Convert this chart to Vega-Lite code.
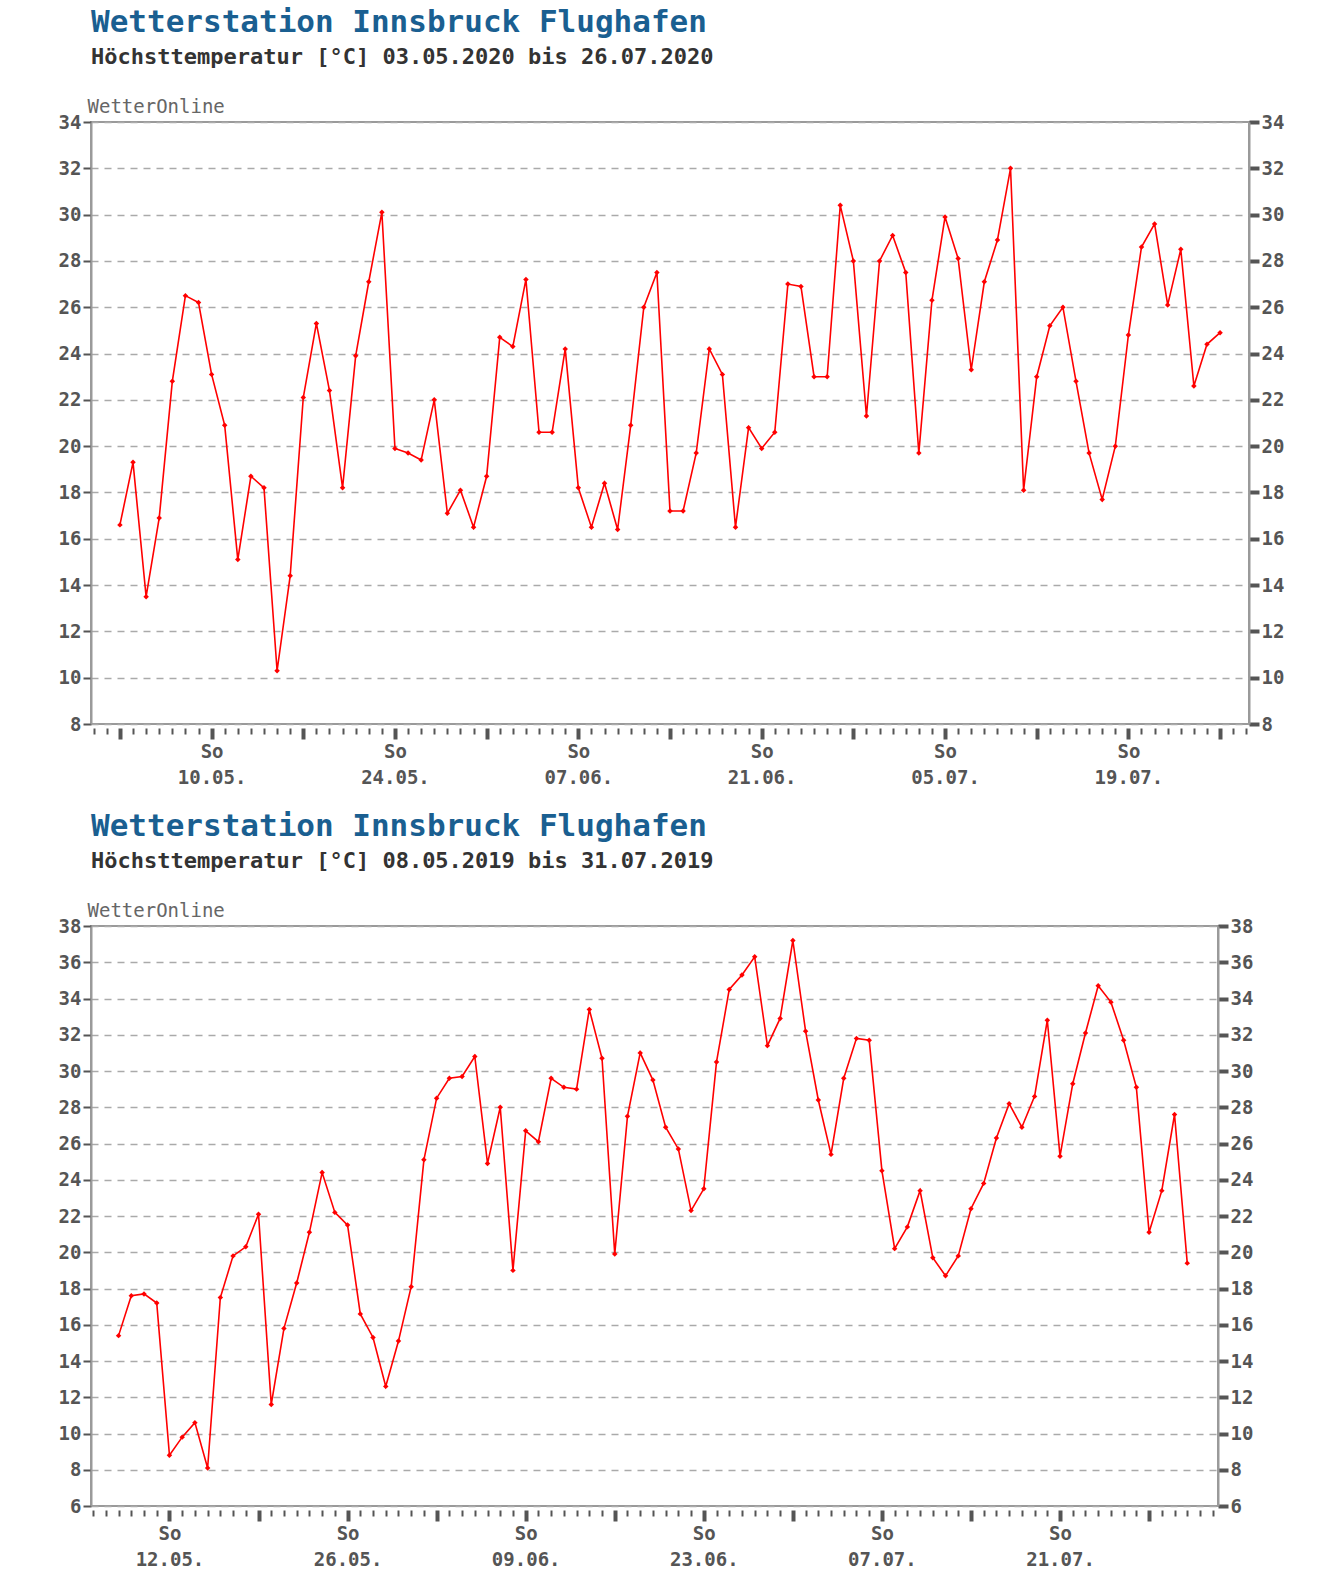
{
  "$schema": "https://vega.github.io/schema/vega-lite/v6.json",
  "background": "white",
  "padding": {"left": 57, "top": 6, "right": 10, "bottom": 5},
  "spacing": 22,
  "config": {
    "font": "DejaVu Sans Mono",
    "view": {"stroke": "#9a9a9a", "strokeWidth": 2},
    "title": {"anchor": "start", "frame": "group", "font": "DejaVu Sans Mono", "fontSize": 31, "fontWeight": "bold", "color": "#1a5f91", "subtitleFont": "DejaVu Sans Mono", "subtitleFontSize": 22, "subtitleFontWeight": "bold", "subtitleColor": "#333333", "subtitlePadding": 8, "offset": 28},
    "axis": {"labelFont": "DejaVu Sans Mono", "labelFontSize": 19, "labelFontWeight": "bold", "labelColor": "#555555", "domainColor": "#9a9a9a", "tickColor": "#555555"}
  },
  "vconcat": [
    {
      "width": 1158,
      "height": 602,
      "title": {"text": "Wetterstation Innsbruck Flughafen", "subtitle": "Höchsttemperatur [°C] 03.05.2020 bis 26.07.2020"},
      "data": {"values": [
        {"d": "2020-05-03", "t": 16.6}, {"d": "2020-05-04", "t": 19.3}, {"d": "2020-05-05", "t": 13.5}, {"d": "2020-05-06", "t": 16.9}, {"d": "2020-05-07", "t": 22.8},
        {"d": "2020-05-08", "t": 26.5}, {"d": "2020-05-09", "t": 26.2}, {"d": "2020-05-10", "t": 23.1}, {"d": "2020-05-11", "t": 20.9}, {"d": "2020-05-12", "t": 15.1},
        {"d": "2020-05-13", "t": 18.7}, {"d": "2020-05-14", "t": 18.2}, {"d": "2020-05-15", "t": 10.3}, {"d": "2020-05-16", "t": 14.4}, {"d": "2020-05-17", "t": 22.1},
        {"d": "2020-05-18", "t": 25.3}, {"d": "2020-05-19", "t": 22.4}, {"d": "2020-05-20", "t": 18.2}, {"d": "2020-05-21", "t": 23.9}, {"d": "2020-05-22", "t": 27.1},
        {"d": "2020-05-23", "t": 30.1}, {"d": "2020-05-24", "t": 19.9}, {"d": "2020-05-25", "t": 19.7}, {"d": "2020-05-26", "t": 19.4}, {"d": "2020-05-27", "t": 22.0},
        {"d": "2020-05-28", "t": 17.1}, {"d": "2020-05-29", "t": 18.1}, {"d": "2020-05-30", "t": 16.5}, {"d": "2020-05-31", "t": 18.7}, {"d": "2020-06-01", "t": 24.7},
        {"d": "2020-06-02", "t": 24.3}, {"d": "2020-06-03", "t": 27.2}, {"d": "2020-06-04", "t": 20.6}, {"d": "2020-06-05", "t": 20.6}, {"d": "2020-06-06", "t": 24.2},
        {"d": "2020-06-07", "t": 18.2}, {"d": "2020-06-08", "t": 16.5}, {"d": "2020-06-09", "t": 18.4}, {"d": "2020-06-10", "t": 16.4}, {"d": "2020-06-11", "t": 20.9},
        {"d": "2020-06-12", "t": 26.0}, {"d": "2020-06-13", "t": 27.5}, {"d": "2020-06-14", "t": 17.2}, {"d": "2020-06-15", "t": 17.2}, {"d": "2020-06-16", "t": 19.7},
        {"d": "2020-06-17", "t": 24.2}, {"d": "2020-06-18", "t": 23.1}, {"d": "2020-06-19", "t": 16.5}, {"d": "2020-06-20", "t": 20.8}, {"d": "2020-06-21", "t": 19.9},
        {"d": "2020-06-22", "t": 20.6}, {"d": "2020-06-23", "t": 27.0}, {"d": "2020-06-24", "t": 26.9}, {"d": "2020-06-25", "t": 23.0}, {"d": "2020-06-26", "t": 23.0},
        {"d": "2020-06-27", "t": 30.4}, {"d": "2020-06-28", "t": 28.0}, {"d": "2020-06-29", "t": 21.3}, {"d": "2020-06-30", "t": 28.0}, {"d": "2020-07-01", "t": 29.1},
        {"d": "2020-07-02", "t": 27.5}, {"d": "2020-07-03", "t": 19.7}, {"d": "2020-07-04", "t": 26.3}, {"d": "2020-07-05", "t": 29.9}, {"d": "2020-07-06", "t": 28.1},
        {"d": "2020-07-07", "t": 23.3}, {"d": "2020-07-08", "t": 27.1}, {"d": "2020-07-09", "t": 28.9}, {"d": "2020-07-10", "t": 32.0}, {"d": "2020-07-11", "t": 18.1},
        {"d": "2020-07-12", "t": 23.0}, {"d": "2020-07-13", "t": 25.2}, {"d": "2020-07-14", "t": 26.0}, {"d": "2020-07-15", "t": 22.8}, {"d": "2020-07-16", "t": 19.7},
        {"d": "2020-07-17", "t": 17.7}, {"d": "2020-07-18", "t": 20.0}, {"d": "2020-07-19", "t": 24.8}, {"d": "2020-07-20", "t": 28.6}, {"d": "2020-07-21", "t": 29.6},
        {"d": "2020-07-22", "t": 26.1}, {"d": "2020-07-23", "t": 28.5}, {"d": "2020-07-24", "t": 22.6}, {"d": "2020-07-25", "t": 24.4}, {"d": "2020-07-26", "t": 24.9}
      ]},
      "resolve": {"axis": {"y": "independent", "x": "independent"}},
      "layer": [
        {
          "mark": {"type": "line", "color": "#ff0000", "strokeWidth": 1.6, "point": {"filled": true, "size": 30, "color": "#ff0000", "shape": "diamond"}},
          "encoding": {
            "x": {"field": "d", "type": "temporal", "title": null,
              "scale": {"domain": [{"year": 2020, "month": 4, "date": 30, "hours": 19}, {"year": 2020, "month": 7, "date": 28, "hours": 5}]},
              "axis": {"tickCount": {"interval": "day", "step": 1}, "grid": false, "domain": false, "labels": false, "offset": 4,
                "tickSize": {"condition": {"test": "day(datum.value)==0", "value": 11}, "value": 6},
                "tickWidth": {"condition": {"test": "day(datum.value)==0", "value": 4}, "value": 2}}},
            "y": {"field": "t", "type": "quantitative", "scale": {"domain": [8, 34], "nice": false},
              "axis": {"values": [8,10,12,14,16,18,20,22,24,26,28,30,32,34], "grid": true, "gridDash": [7, 6], "gridColor": "#aaaaaa", "gridWidth": 1.5,
                "tickSize": 8, "tickWidth": 2, "domainWidth": 2,
                "title": "WetterOnline", "titleAngle": 0, "titleAlign": "left", "titleBaseline": "bottom", "titleX": -4, "titleY": -6,
                "titleFont": "DejaVu Sans Mono", "titleFontSize": 19, "titleFontWeight": "normal", "titleColor": "#666666"}}
          }
        },
        {
          "mark": {"type": "line", "opacity": 0},
          "encoding": {
            "x": {"field": "d", "type": "temporal", "title": null,
              "axis": {"orient": "bottom", "values": [{"year": 2020, "month": 5, "date": 10}, {"year": 2020, "month": 5, "date": 24}, {"year": 2020, "month": 6, "date": 7}, {"year": 2020, "month": 6, "date": 21}, {"year": 2020, "month": 7, "date": 5}, {"year": 2020, "month": 7, "date": 19}],
                "grid": false, "domain": false, "ticks": false, "offset": 4, "labelPadding": 14, "labelLineHeight": 26, "labelOverlap": false, "labelFlush": false,
                "labelExpr": "['So', timeFormat(datum.value, '%d.%m.')]"}},
            "y": {"field": "t", "type": "quantitative",
              "axis": {"orient": "right", "values": [8,10,12,14,16,18,20,22,24,26,28,30,32,34], "grid": false, "title": null, "tickSize": 10, "tickWidth": 4, "domainWidth": 2}}
          }
        }
      ]
    },
    {
      "width": 1127,
      "height": 580,
      "title": {"text": "Wetterstation Innsbruck Flughafen", "subtitle": "Höchsttemperatur [°C] 08.05.2019 bis 31.07.2019"},
      "data": {"values": [
        {"d": "2019-05-08", "t": 15.4}, {"d": "2019-05-09", "t": 17.6}, {"d": "2019-05-10", "t": 17.7}, {"d": "2019-05-11", "t": 17.2}, {"d": "2019-05-12", "t": 8.8},
        {"d": "2019-05-13", "t": 9.8}, {"d": "2019-05-14", "t": 10.6}, {"d": "2019-05-15", "t": 8.1}, {"d": "2019-05-16", "t": 17.5}, {"d": "2019-05-17", "t": 19.8},
        {"d": "2019-05-18", "t": 20.3}, {"d": "2019-05-19", "t": 22.1}, {"d": "2019-05-20", "t": 11.6}, {"d": "2019-05-21", "t": 15.8}, {"d": "2019-05-22", "t": 18.3},
        {"d": "2019-05-23", "t": 21.1}, {"d": "2019-05-24", "t": 24.4}, {"d": "2019-05-25", "t": 22.2}, {"d": "2019-05-26", "t": 21.5}, {"d": "2019-05-27", "t": 16.6},
        {"d": "2019-05-28", "t": 15.3}, {"d": "2019-05-29", "t": 12.6}, {"d": "2019-05-30", "t": 15.1}, {"d": "2019-05-31", "t": 18.1}, {"d": "2019-06-01", "t": 25.1},
        {"d": "2019-06-02", "t": 28.5}, {"d": "2019-06-03", "t": 29.6}, {"d": "2019-06-04", "t": 29.7}, {"d": "2019-06-05", "t": 30.8}, {"d": "2019-06-06", "t": 24.9},
        {"d": "2019-06-07", "t": 28.0}, {"d": "2019-06-08", "t": 19.0}, {"d": "2019-06-09", "t": 26.7}, {"d": "2019-06-10", "t": 26.1}, {"d": "2019-06-11", "t": 29.6},
        {"d": "2019-06-12", "t": 29.1}, {"d": "2019-06-13", "t": 29.0}, {"d": "2019-06-14", "t": 33.4}, {"d": "2019-06-15", "t": 30.7}, {"d": "2019-06-16", "t": 19.9},
        {"d": "2019-06-17", "t": 27.5}, {"d": "2019-06-18", "t": 31.0}, {"d": "2019-06-19", "t": 29.5}, {"d": "2019-06-20", "t": 26.9}, {"d": "2019-06-21", "t": 25.7},
        {"d": "2019-06-22", "t": 22.3}, {"d": "2019-06-23", "t": 23.5}, {"d": "2019-06-24", "t": 30.5}, {"d": "2019-06-25", "t": 34.5}, {"d": "2019-06-26", "t": 35.3},
        {"d": "2019-06-27", "t": 36.3}, {"d": "2019-06-28", "t": 31.4}, {"d": "2019-06-29", "t": 32.9}, {"d": "2019-06-30", "t": 37.2}, {"d": "2019-07-01", "t": 32.2},
        {"d": "2019-07-02", "t": 28.4}, {"d": "2019-07-03", "t": 25.4}, {"d": "2019-07-04", "t": 29.6}, {"d": "2019-07-05", "t": 31.8}, {"d": "2019-07-06", "t": 31.7},
        {"d": "2019-07-07", "t": 24.5}, {"d": "2019-07-08", "t": 20.2}, {"d": "2019-07-09", "t": 21.4}, {"d": "2019-07-10", "t": 23.4}, {"d": "2019-07-11", "t": 19.7},
        {"d": "2019-07-12", "t": 18.7}, {"d": "2019-07-13", "t": 19.8}, {"d": "2019-07-14", "t": 22.4}, {"d": "2019-07-15", "t": 23.8}, {"d": "2019-07-16", "t": 26.3},
        {"d": "2019-07-17", "t": 28.2}, {"d": "2019-07-18", "t": 26.9}, {"d": "2019-07-19", "t": 28.6}, {"d": "2019-07-20", "t": 32.8}, {"d": "2019-07-21", "t": 25.3},
        {"d": "2019-07-22", "t": 29.3}, {"d": "2019-07-23", "t": 32.1}, {"d": "2019-07-24", "t": 34.7}, {"d": "2019-07-25", "t": 33.8}, {"d": "2019-07-26", "t": 31.7},
        {"d": "2019-07-27", "t": 29.1}, {"d": "2019-07-28", "t": 21.1}, {"d": "2019-07-29", "t": 23.4}, {"d": "2019-07-30", "t": 27.6}, {"d": "2019-07-31", "t": 19.4}
      ]},
      "resolve": {"axis": {"y": "independent", "x": "independent"}},
      "layer": [
        {
          "mark": {"type": "line", "color": "#ff0000", "strokeWidth": 1.6, "point": {"filled": true, "size": 30, "color": "#ff0000", "shape": "diamond"}},
          "encoding": {
            "x": {"field": "d", "type": "temporal", "title": null,
              "scale": {"domain": [{"year": 2019, "month": 5, "date": 5, "hours": 20}, {"year": 2019, "month": 8, "date": 2, "hours": 10}]},
              "axis": {"tickCount": {"interval": "day", "step": 1}, "grid": false, "domain": false, "labels": false, "offset": 4,
                "tickSize": {"condition": {"test": "day(datum.value)==0", "value": 11}, "value": 6},
                "tickWidth": {"condition": {"test": "day(datum.value)==0", "value": 4}, "value": 2}}},
            "y": {"field": "t", "type": "quantitative", "scale": {"domain": [6, 38], "nice": false},
              "axis": {"values": [6,8,10,12,14,16,18,20,22,24,26,28,30,32,34,36,38], "grid": true, "gridDash": [7, 6], "gridColor": "#aaaaaa", "gridWidth": 1.5,
                "tickSize": 8, "tickWidth": 2, "domainWidth": 2,
                "title": "WetterOnline", "titleAngle": 0, "titleAlign": "left", "titleBaseline": "bottom", "titleX": -4, "titleY": -6,
                "titleFont": "DejaVu Sans Mono", "titleFontSize": 19, "titleFontWeight": "normal", "titleColor": "#666666"}}
          }
        },
        {
          "mark": {"type": "line", "opacity": 0},
          "encoding": {
            "x": {"field": "d", "type": "temporal", "title": null,
              "axis": {"orient": "bottom", "values": [{"year": 2019, "month": 5, "date": 12}, {"year": 2019, "month": 5, "date": 26}, {"year": 2019, "month": 6, "date": 9}, {"year": 2019, "month": 6, "date": 23}, {"year": 2019, "month": 7, "date": 7}, {"year": 2019, "month": 7, "date": 21}],
                "grid": false, "domain": false, "ticks": false, "offset": 4, "labelPadding": 14, "labelLineHeight": 26, "labelOverlap": false, "labelFlush": false,
                "labelExpr": "['So', timeFormat(datum.value, '%d.%m.')]"}},
            "y": {"field": "t", "type": "quantitative",
              "axis": {"orient": "right", "values": [6,8,10,12,14,16,18,20,22,24,26,28,30,32,34,36,38], "grid": false, "title": null, "tickSize": 10, "tickWidth": 4, "domainWidth": 2}}
          }
        }
      ]
    }
  ]
}
